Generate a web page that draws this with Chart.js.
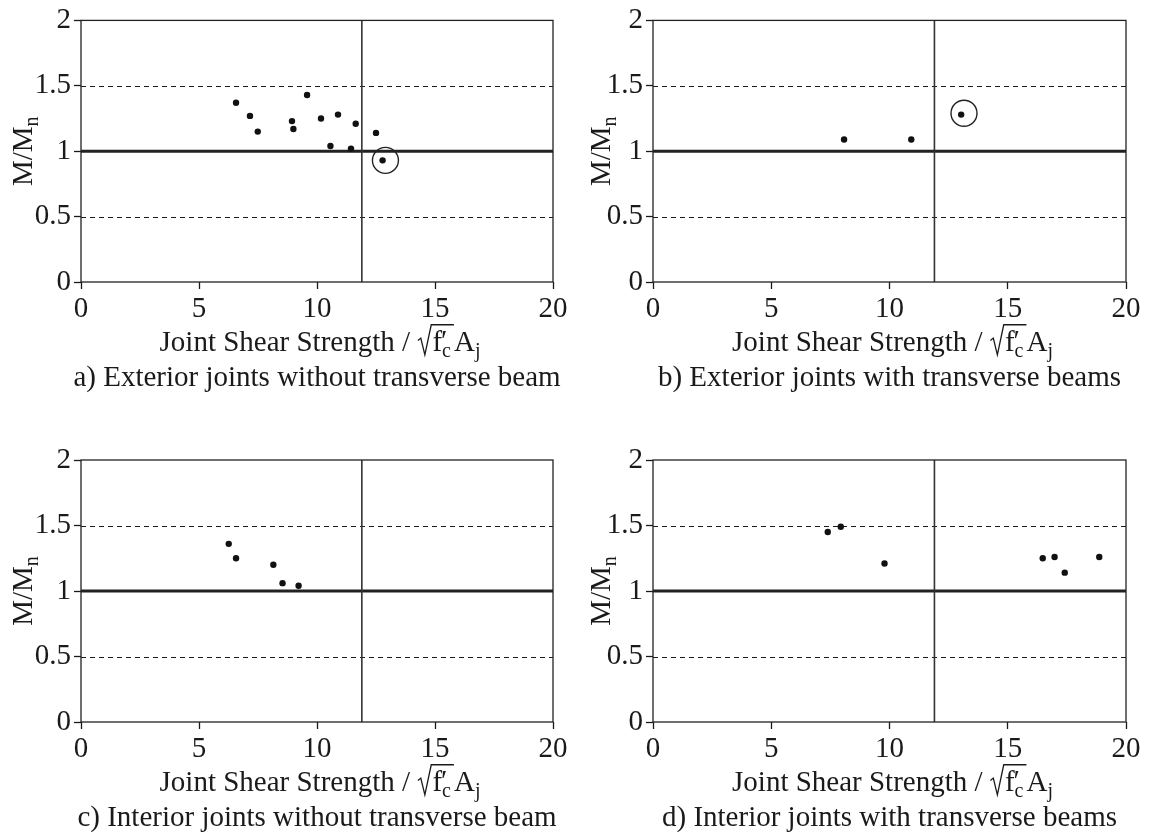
<!DOCTYPE html>
<html>
<head>
<meta charset="utf-8">
<script src="https://cdn.jsdelivr.net/npm/chart.js@4.4.0/dist/chart.umd.min.js"></script>
<style>
  body { margin: 0; background: #fff; }
  #wrap { position: relative; width: 1151px; height: 832px; }
  canvas { position: absolute; }
</style>
</head>
<body>
<div id="wrap">
  <canvas id="chartA" width="576" height="416" style="left:0;top:0"></canvas>
  <canvas id="chartB" width="575" height="416" style="left:576px;top:0"></canvas>
  <canvas id="chartC" width="576" height="416" style="left:0;top:416px"></canvas>
  <canvas id="chartD" width="575" height="416" style="left:576px;top:416px"></canvas>
</div>
<script>
// ticks
const xTickValues = [0, 5, 10, 15, 20];
const yTickValues = [0, 0.5, 1, 1.5, 2];

// reference lines
const dashedLevels = [0.5, 1.5];
const unityLevel = 1;
const shearLimit = 11.9;

// a) exterior, no transverse beam
const xA = [6.57, 7.16, 7.49, 8.94, 9.0, 9.58, 10.17, 10.57, 10.89, 11.44, 11.64, 12.5, 12.78];
const yA = [1.37, 1.27, 1.15, 1.23, 1.17, 1.43, 1.25, 1.04, 1.28, 1.02, 1.21, 1.14, 0.93];
const circleXA = [12.9];
const circleYA = [0.93];

// b) exterior, with transverse beams
const xB = [8.08, 10.92, 13.03];
const yB = [1.09, 1.09, 1.28];
const circleXB = [13.15];
const circleYB = [1.29];

// c) interior, no transverse beam
const xC = [6.26, 6.57, 8.15, 8.54, 9.22];
const yC = [1.36, 1.25, 1.20, 1.06, 1.04];

// d) interior, with transverse beams
const xD = [7.39, 7.94, 9.79, 16.48, 16.98, 17.41, 18.87];
const yD = [1.45, 1.49, 1.21, 1.25, 1.26, 1.14, 1.26];

const captions = [
  'a) Exterior joints without transverse beam',
  'b) Exterior joints with transverse beams',
  'c) Interior joints without transverse beam',
  'd) Interior joints with transverse beams'
];

const serif = "'Liberation Serif', 'Times New Roman', serif";
const FS = 29;
const ink = '#1a1a1a';

function drawXTitle(ctx, cx, cy) {
  const big = FS + 'px ' + serif;
  const small = Math.round(FS * 0.68) + 'px ' + serif;
  ctx.font = big;
  const t1 = 'Joint Shear Strength / ';
  const w1 = ctx.measureText(t1).width;
  const wf = ctx.measureText('f').width;
  const wp = ctx.measureText('\u2032').width;
  const wA = ctx.measureText('A').width;
  ctx.font = small;
  const wc = ctx.measureText('c').width;
  const wj = ctx.measureText('j').width;
  const rad = 0.52 * FS;
  const inner = wf + Math.max(wp, wc) + 3;
  const total = w1 + rad + inner + wA + wj;
  let x = cx - total / 2;
  const b = cy + 0.34 * FS;
  ctx.fillStyle = ink;
  ctx.textAlign = 'left';
  ctx.textBaseline = 'alphabetic';
  ctx.font = big;
  ctx.fillText(t1, x, b);
  x += w1;
  // radical sign with bar
  ctx.strokeStyle = ink;
  ctx.lineWidth = 1.3;
  ctx.beginPath();
  ctx.moveTo(x + 0.02 * FS, b - 0.36 * FS);
  ctx.lineTo(x + 0.12 * FS, b - 0.44 * FS);
  ctx.lineTo(x + 0.26 * FS, b + 0.14 * FS);
  ctx.lineTo(x + 0.48 * FS, b - 0.9 * FS);
  ctx.lineTo(x + rad + inner, b - 0.9 * FS);
  ctx.stroke();
  x += rad;
  ctx.fillText('f', x, b);
  ctx.fillText('\u2032', x + wf - 1, b - 0.02 * FS);
  ctx.font = small;
  ctx.fillText('c', x + wf, b + 0.22 * FS);
  x += inner;
  ctx.font = big;
  ctx.fillText('A', x, b);
  ctx.font = small;
  ctx.fillText('j', x + wA, b + 0.22 * FS);
}

function drawYTitle(ctx, cx, cy) {
  const big = FS + 'px ' + serif;
  const small = Math.round(FS * 0.7) + 'px ' + serif;
  ctx.save();
  ctx.translate(cx, cy);
  ctx.rotate(-Math.PI / 2);
  ctx.font = big;
  const wm = ctx.measureText('M/M').width;
  ctx.font = small;
  const wn = ctx.measureText('n').width;
  const x0 = -(wm + wn) / 2;
  const b = 0.34 * FS;
  ctx.fillStyle = ink;
  ctx.textAlign = 'left';
  ctx.textBaseline = 'alphabetic';
  ctx.font = big;
  ctx.fillText('M/M', x0, b);
  ctx.font = small;
  ctx.fillText('n', x0 + wm, b + 0.2 * FS);
  ctx.restore();
}

const framePlugin = {
  id: 'frame',
  beforeDatasetsDraw(chart) {
    const { ctx, chartArea: a, scales: { x, y } } = chart;
    ctx.save();
    ctx.strokeStyle = ink;
    ctx.lineWidth = 1;
    ctx.setLineDash([5, 4]);
    dashedLevels.forEach(v => {
      const py = Math.round(y.getPixelForValue(v)) + 0.5;
      ctx.beginPath();
      ctx.moveTo(a.left, py);
      ctx.lineTo(a.right, py);
      ctx.stroke();
    });
    ctx.setLineDash([]);
    ctx.lineWidth = 3;
    ctx.strokeStyle = '#222';
    const uy = y.getPixelForValue(unityLevel);
    ctx.beginPath();
    ctx.moveTo(a.left, uy);
    ctx.lineTo(a.right, uy);
    ctx.stroke();
    ctx.lineWidth = 1.6;
    ctx.strokeStyle = '#333';
    const lx = x.getPixelForValue(shearLimit);
    ctx.beginPath();
    ctx.moveTo(lx, a.top);
    ctx.lineTo(lx, a.bottom);
    ctx.stroke();
    ctx.lineWidth = 1.3;
    ctx.strokeStyle = '#222';
    ctx.strokeRect(a.left, a.top, a.right - a.left, a.bottom - a.top);
    ctx.restore();
  },
  afterDraw(chart) {
    const { ctx, chartArea: a } = chart;
    const o = chart.options.plugins.frame;
    const mid = (a.left + a.right) / 2;
    ctx.save();
    drawXTitle(ctx, mid + 3, a.bottom + 59);
    ctx.font = FS + 'px ' + serif;
    ctx.fillStyle = ink;
    ctx.textAlign = 'center';
    ctx.textBaseline = 'middle';
    ctx.fillText(o.caption, mid, a.bottom + 96);
    drawYTitle(ctx, a.left - o.yTitleOffset, (a.top + a.bottom) / 2);
    ctx.restore();
  }
};

function makeChart(id, xs, ys, cxs, cys, caption, g) {
  const datasets = [{
    data: xs.map((v, i) => ({ x: v, y: ys[i] })),
    pointRadius: 3.2,
    pointBackgroundColor: '#111',
    pointBorderWidth: 0,
    showLine: false
  }];
  if (cxs.length) {
    datasets.push({
      data: cxs.map((v, i) => ({ x: v, y: cys[i] })),
      pointRadius: 13,
      pointBackgroundColor: 'rgba(0,0,0,0)',
      pointBorderColor: '#222',
      pointBorderWidth: 1.4,
      showLine: false
    });
  }
  const tickFont = { family: serif, size: FS };
  new Chart(document.getElementById(id), {
    type: 'scatter',
    data: { datasets },
    options: {
      responsive: false,
      animation: false,
      events: [],
      layout: { padding: { top: g.top, right: g.right, left: 0, bottom: 0 } },
      plugins: {
        legend: { display: false },
        tooltip: { enabled: false },
        frame: { caption, yTitleOffset: g.yTitle }
      },
      scales: {
        x: {
          type: 'linear', min: 0, max: 20,
          afterBuildTicks: s => { s.ticks = xTickValues.map(v => ({ value: v })); },
          afterFit: s => { s.height = g.xh; },
          ticks: { font: tickFont, color: ink, padding: 3, maxRotation: 0, callback: v => String(v) },
          grid: { drawOnChartArea: false, drawTicks: true, tickLength: 7, tickColor: ink, tickWidth: 1.3 },
          border: { display: false }
        },
        y: {
          type: 'linear', min: 0, max: 2,
          afterBuildTicks: s => { s.ticks = yTickValues.map(v => ({ value: v })); },
          afterFit: s => { s.width = g.yw; },
          ticks: { font: tickFont, color: ink, padding: 3, callback: v => String(v) },
          grid: { drawOnChartArea: false, drawTicks: true, tickLength: 7, tickColor: ink, tickWidth: 1.3 },
          border: { display: false }
        }
      }
    },
    plugins: [framePlugin]
  });
}

makeChart('chartA', xA, yA, circleXA, circleYA, captions[0], { top: 20, right: 23, yw: 81, xh: 134, yTitle: 59 });
makeChart('chartB', xB, yB, circleXB, circleYB, captions[1], { top: 20, right: 25, yw: 77, xh: 134, yTitle: 53 });
makeChart('chartC', xC, yC, [], [], captions[2], { top: 44, right: 23, yw: 81, xh: 110, yTitle: 59 });
makeChart('chartD', xD, yD, [], [], captions[3], { top: 44, right: 25, yw: 77, xh: 110, yTitle: 53 });
</script>
</body>
</html>
